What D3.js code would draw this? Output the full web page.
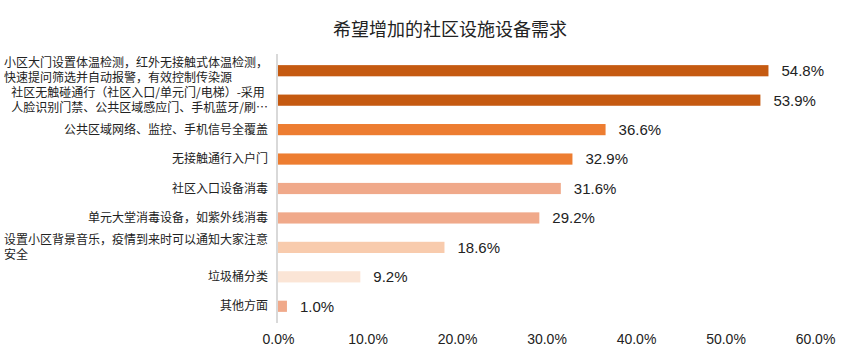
<!DOCTYPE html>
<html>
<head>
<meta charset="utf-8">
<script src="https://cdn.jsdelivr.net/npm/d3@7"></script>
<style>
  body { margin: 0; background: #fff; }
  text { font-family: "Noto Sans CJK SC", "Noto Sans", sans-serif; fill: #222; }
  .num { font-family: "Liberation Sans", Arial, sans-serif; }
</style>
</head>
<body>
<div id="chart"></div>
<script>
// --- Data ---
const title = "希望增加的社区设施设备需求";
const categories = [
    "小区大门设置体温检测，红外无接触式体温检测，\n快速提问筛选并自动报警，有效控制传染源",
    "社区无触碰通行（社区入口/单元门/电梯）-采用\n人脸识别门禁、公共区域感应门、手机蓝牙/刷…",
    "公共区域网络、监控、手机信号全覆盖",
    "无接触通行入户门",
    "社区入口设备消毒",
    "单元大堂消毒设备，如紫外线消毒",
    "设置小区背景音乐，疫情到来时可以通知大家注意\n安全",
    "垃圾桶分类",
    "其他方面"
];
const values = [54.8, 53.9, 36.6, 32.9, 31.6, 29.2, 18.6, 9.2, 1.0];
const barColors = ["#C55A11", "#C55A11", "#ED7D31", "#ED7D31", "#F0A98A", "#F0A98A", "#F8CBAD", "#FBE5D6", "#F0A98A"];
const xTicks = [0, 10, 20, 30, 40, 50, 60];

// --- Rendering ---
const width = 860, height = 360;
const margin = { top: 56, right: 45, bottom: 39, left: 278 };

const svg = d3.select("#chart").append("svg")
    .attr("width", width)
    .attr("height", height);

const x = d3.scaleLinear()
    .domain([0, 60])
    .range([margin.left, width - margin.right]);

const y = d3.scaleBand()
    .domain(categories)
    .range([margin.top, height - margin.bottom])
    .paddingInner(0.62)
    .paddingOuter(0.31);

// title
svg.append("text")
    .attr("x", 450)
    .attr("y", 36)
    .attr("text-anchor", "middle")
    .style("font-size", "18px")
    .text(title);

// bars
svg.selectAll("rect.bar")
    .data(values)
    .join("rect")
    .attr("class", "bar")
    .attr("x", x(0))
    .attr("y", (d, i) => y(categories[i]))
    .attr("width", d => x(d) - x(0))
    .attr("height", y.bandwidth())
    .attr("fill", (d, i) => barColors[i]);

// value labels
svg.selectAll("text.val")
    .data(values)
    .join("text")
    .attr("class", "val num")
    .attr("x", d => x(d) + 13)
    .attr("y", (d, i) => y(categories[i]) + y.bandwidth() / 2)
    .attr("dy", "0.36em")
    .style("font-size", "15px")
    .text(d => d.toFixed(1) + "%");

// category labels (lines left aligned, block right aligned)
const labelRight = margin.left - 10;
categories.forEach(cat => {
    const lines = cat.split("\n");
    const cy = y(cat) + y.bandwidth() / 2;
    const t = svg.append("text")
        .style("font-size", "12px");
    lines.forEach((ln, j) => {
        t.append("tspan")
            .attr("x", 0)
            .attr("y", cy + (j - (lines.length - 1) / 2) * 15)
            .attr("dy", "0.35em")
            .text(ln);
    });
    const w = t.node().getBBox().width;
    t.selectAll("tspan").attr("x", labelRight - w);
});

// x axis labels
svg.append("g")
    .attr("transform", `translate(0,${height - 19})`)
    .call(d3.axisBottom(x).tickValues(xTicks).tickSize(0).tickFormat(d => d.toFixed(1) + "%"))
    .call(g => g.select(".domain").remove())
    .selectAll("text")
    .attr("class", "num")
    .style("font-size", "14px")
    .attr("fill", "#222")
    .attr("dy", "0");

// y axis line
svg.append("line")
    .attr("x1", x(0) - 1).attr("x2", x(0) - 1)
    .attr("y1", margin.top - 2)
    .attr("y2", height - margin.bottom + 2)
    .attr("stroke", "#d9d9d9")
    .attr("stroke-width", 2);
</script>
</body>
</html>
